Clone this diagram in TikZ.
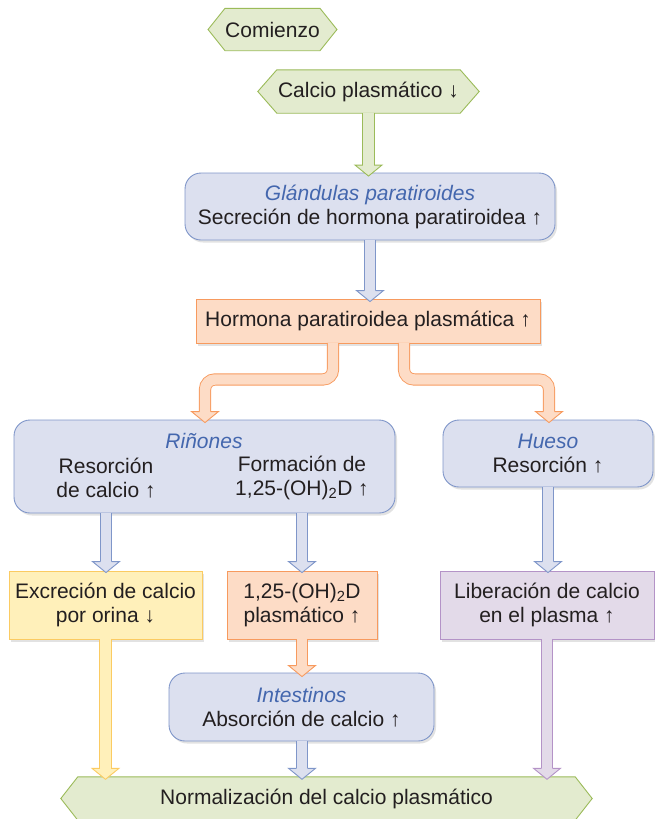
\documentclass[tikz,border=0pt]{standalone}
\usepackage{fontspec}
\setmainfont{Liberation Sans}
\usetikzlibrary{calc,backgrounds,shadows}
\definecolor{txt}{HTML}{231F20}
\definecolor{tblue}{HTML}{4467AE}
\definecolor{gfill}{HTML}{E3EBCF}
\definecolor{gborder}{HTML}{9BBB59}
\definecolor{bfill}{HTML}{DCE0EF}
\definecolor{bborder}{HTML}{7F96C9}
\definecolor{ofill}{HTML}{FDDCC6}
\definecolor{oborder}{HTML}{F79A5E}
\definecolor{yfill}{HTML}{FFF0BA}
\definecolor{yborder}{HTML}{FBCB62}
\definecolor{pfill}{HTML}{E3DAE9}
\definecolor{pborder}{HTML}{B493C7}
\tikzset{
  base/.style={font=\fontsize{21}{24}\selectfont, text=txt, align=center, inner sep=0pt},
  ttl/.style={base, font=\fontsize{21}{24}\selectfont\itshape, text=tblue},
  shd/.style={drop shadow={shadow xshift=2pt, shadow yshift=-2.5pt, opacity=0.25, fill=black!45}},
  bbox/.style={base, rounded corners=16pt, draw=bborder, fill=bfill, line width=0.9pt, shd},
  obox/.style={base, draw=oborder, fill=ofill, line width=0.9pt, shd},
  ybox/.style={base, draw=yborder, fill=yfill, line width=0.9pt, shd},
  pbox/.style={base, draw=pborder, fill=pfill, line width=0.9pt, shd},
  hexs/.style={fill=gfill, draw=gborder, line width=0.9pt},
  shaft/.style 2 args={draw=#2, double=#1, line width=0.9pt, double distance=10.4pt},
}
\newcommand\ahead[3]{%
  \fill[#1] ($(#3)+(-13.5,-11)$) -- (#3) -- ($(#3)+(13.5,-11)$) -- cycle;
  \draw[#2, line width=0.9pt, line join=miter] ($(#3)+(-5.6,-11)$) -- ($(#3)+(-13.5,-11)$) -- (#3) -- ($(#3)+(13.5,-11)$) -- ($(#3)+(5.6,-11)$);}
\newcommand\barrow[4]{%
  \draw[shaft={#1}{#2}] ($(#3)+(0,-0.6)$) -- ($(#4)+(0,-10.5)$);
  \ahead{#1}{#2}{#4}}
\newcommand\hexbg[2]{%
  \draw[hexs] (#1.north west) -- (#1.north east) -- ($(#1.east)+(#2,0)$) -- (#1.south east) -- (#1.south west) -- ($(#1.west)+(-#2,0)$) -- cycle;}
\begin{document}
\begin{tikzpicture}[x=1pt,y=-1pt]
\useasboundingbox (0,0) rectangle (655,819);
% hexagon nodes
\node[base, minimum width=85pt, minimum height=42pt] (comienzo) at (272.5,29.5) {Comienzo};
\node[base, minimum width=183pt, minimum height=43pt] (calcio) at (368.5,91.5) {Calcio plasmático ↓};
\node[base, minimum width=497pt, minimum height=43pt] (normal) at (326.5,798.5) {Normalización del calcio plasmático};
\begin{pgfonlayer}{background}
\hexbg{comienzo}{17}
\hexbg{calcio}{19}
\hexbg{normal}{17}
\end{pgfonlayer}
% boxes
\node[bbox, minimum width=370pt, minimum height=67pt] (gland) at (370,206.5)
  {{\itshape\color{tblue}Glándulas paratiroides}\\Secreción de hormona paratiroidea ↑};
\node[obox, minimum width=344pt, minimum height=44pt] (hormona) at (368,321) {Hormona paratiroidea plasmática ↑};
\node[bbox, minimum width=381pt, minimum height=93pt] (rinones) at (204.5,466.5) {};
\node[ttl] (rtitle) at (204,441) {Riñones};
\node[base] (rleft) at (106,478) {Resorción\\de calcio ↑};
\node[base] (rright) at (302,478) {Formación de\\1,25-(OH)\textsubscript{2}D ↑};
\node[bbox, minimum width=210pt, minimum height=67pt] (hueso) at (548,453.5)
  {{\itshape\color{tblue}Hueso}\\Resorción ↑};
\node[ybox, minimum width=193pt, minimum height=68pt] (excrecion) at (105.5,605) {Excreción de calcio\\por orina ↓};
\node[obox, minimum width=150pt, minimum height=68pt] (vitd) at (302,605) {1,25-(OH)\textsubscript{2}D\\plasmático ↑};
\node[pbox, minimum width=214pt, minimum height=68pt] (liber) at (547,605) {Liberación de calcio\\en el plasma ↑};
\node[bbox, minimum width=265pt, minimum height=68pt] (intest) at (301.5,707)
  {{\itshape\color{tblue}Intestinos}\\Absorción de calcio ↑};
% arrow coordinates
\coordinate (s1) at (calcio.south);
\coordinate (t1) at ($(calcio.south |- gland.north)+(0,3.5)$);
\coordinate (s2) at (gland.south);
\coordinate (t2) at ($(gland.south |- hormona.north)+(0,3)$);
\coordinate (sL) at ($(hormona.south)+(-35,0)$);
\coordinate (sR) at ($(hormona.south)+(36,0)$);
\coordinate (band) at ($(hormona.south)+(0,36)$);
\coordinate (tL) at ($(rtitle.center |- rinones.north)+(1,3)$);
\coordinate (tR) at ($(hueso.center |- hueso.north)+(1,3)$);
\coordinate (s3) at (rleft.center |- rinones.south);
\coordinate (t3) at ($(s3 |- excrecion.north)+(0,2)$);
\coordinate (s4) at (rright.center |- rinones.south);
\coordinate (t4) at ($(s4 |- vitd.north)+(0,2)$);
\coordinate (s5) at (hueso.south);
\coordinate (t5) at ($(hueso.south |- liber.north)+(0,2)$);
\coordinate (s6) at (vitd.south);
\coordinate (t6) at ($(vitd.south |- intest.north)+(0,4)$);
\coordinate (s7) at (excrecion.south);
\coordinate (t7) at ($(excrecion.south |- normal.north)+(0,2.5)$);
\coordinate (s8) at ($(intest.south)+(0.5,0)$);
\coordinate (t8) at ($(s8 |- normal.north)+(0,2.5)$);
\coordinate (s9) at (liber.south);
\coordinate (t9) at ($(liber.south |- normal.north)+(0,2.5)$);
% arrows
\barrow{gfill}{gborder}{s1}{t1}
\barrow{bfill}{bborder}{s2}{t2}
\draw[shaft={ofill}{oborder}, rounded corners=10pt] ($(sL)+(0,-0.6)$) -- (sL |- band) -- (band -| tL) -- ($(tL)+(0,-10.5)$);
\ahead{ofill}{oborder}{tL}
\draw[shaft={ofill}{oborder}, rounded corners=10pt] ($(sR)+(0,-0.6)$) -- (sR |- band) -- (band -| tR) -- ($(tR)+(0,-10.5)$);
\ahead{ofill}{oborder}{tR}
\barrow{bfill}{bborder}{s3}{t3}
\barrow{bfill}{bborder}{s4}{t4}
\barrow{bfill}{bborder}{s5}{t5}
\barrow{ofill}{oborder}{s6}{t6}
\barrow{yfill}{yborder}{s7}{t7}
\barrow{bfill}{bborder}{s8}{t8}
\barrow{pfill}{pborder}{s9}{t9}
\end{tikzpicture}
\end{document}
